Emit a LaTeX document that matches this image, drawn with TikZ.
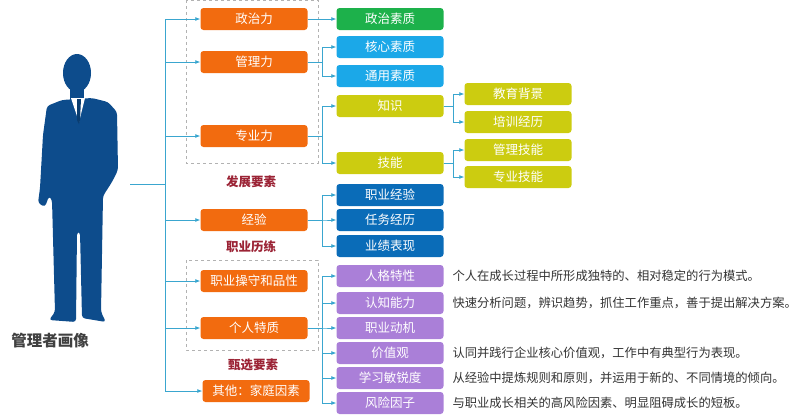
\documentclass[tikz,border=0pt]{standalone}
\usepackage{fontspec}
\setmainfont{Noto Sans CJK SC}
\usetikzlibrary{arrows.meta}
\definecolor{lineblue}{HTML}{3AA6CF}
\definecolor{orangeA}{HTML}{F26B0F}
\definecolor{greenA}{HTML}{1DB14B}
\definecolor{cyanA}{HTML}{1BA8E8}
\definecolor{yellowA}{HTML}{CCCC10}
\definecolor{navyA}{HTML}{0A6CB8}
\definecolor{purpleA}{HTML}{AA7FD8}
\definecolor{redlabel}{HTML}{9B2335}
\definecolor{suit}{HTML}{0D4C8C}

\begin{document}
\begin{tikzpicture}[x=1pt,y=-1pt,
  box/.style={rounded corners=3pt, minimum width=107pt, minimum height=22pt,
    inner sep=0pt, text=white, font=\fontsize{12.5}{13}\selectfont},
  obox/.style={box, fill=orangeA},
  arr/.style={draw=lineblue, line width=0.8pt, -{Latex[length=5pt,width=4pt]}},
  groupname/.style={text=redlabel, font=\fontsize{12.5}{13}\selectfont\bfseries},
  desc/.style={anchor=west, text=black!80, font=\fontsize{12.3}{13}\selectfont},
  grouprect/.style={draw=black!30, dashed, line width=0.8pt}]

\useasboundingbox (0,0) rectangle (808,418);

% the manager
\fill[suit] (77,73) ellipse (14 and 19);
\fill[suit] (70,86) rectangle (84,101);
\fill[suit, rounded corners=3pt] (62,100) -- (47,106) -- (43,135) -- (40,188)
  -- (38,203) -- (45,207) -- (49,196) -- (52,200) -- (55,312) -- (49,320)
  -- (76,322) -- (77,232) -- (80,232) -- (82,318) -- (106,322) -- (101,312)
  -- (103,196) -- (112,182) -- (118,170) -- (117,112) -- (108,102) -- (92,98) -- cycle;
\fill[white] (71,98) -- (85,98) -- (79,122) -- cycle;
\fill[suit!80!black] (77,99) -- (81,99) -- (80,120) -- (79,124) -- (77,120) -- cycle;
\node[font=\fontsize{15.5}{16}\selectfont\bfseries, text=black!75] (title) at (50,341) {管理者画像};

\coordinate (root) at (130,184);

% groups
\draw[grouprect] (186,0) rectangle (318,163);
\draw[grouprect] (186,260) rectangle (318,350);
\node[groupname] (g1) at (251,182) {发展要素};
\node[groupname] (g2) at (251,247) {职业历练};
\node[groupname] (g3) at (253,365) {甄选要素};

% first level
\node[obox] (zzl) at (254,19) {政治力};
\node[obox] (gll) at (254,62) {管理力};
\node[obox] (zyl) at (254,136) {专业力};
\node[obox] (jy) at (254,220) {经验};
\node[obox] (czps) at (254,281) {职业操守和品性};
\node[obox] (grtz) at (254,328) {个人特质};
\node[obox] (qt) at (256,391) {其他：家庭因素};

\foreach \n in {zzl,gll,zyl,jy,czps,grtz,qt}
  \draw[arr] (root) -- ++(35,0) |- (\n.west);

% second level
\node[box, fill=greenA] (zzsz) at (390,19) {政治素质};
\node[box, fill=cyanA] (hxsz) at (390,47) {核心素质};
\node[box, fill=cyanA] (tysz) at (390,76) {通用素质};
\node[box, fill=yellowA] (zs) at (390,106) {知识};
\node[box, fill=yellowA] (jn) at (390,163) {技能};
\node[box, fill=navyA] (zyjy) at (390,195) {职业经验};
\node[box, fill=navyA] (rwjl) at (390,220) {任务经历};
\node[box, fill=navyA] (yjbx) at (390,246) {业绩表现};
\node[box, fill=purpleA] (rgtx) at (390,276) {人格特性};
\node[box, fill=purpleA] (rznl) at (390,303) {认知能力};
\node[box, fill=purpleA] (zydj) at (390,328) {职业动机};
\node[box, fill=purpleA] (jzg) at (390,353) {价值观};
\node[box, fill=purpleA] (xxmr) at (390,378) {学习敏锐度};
\node[box, fill=purpleA] (fxyz) at (390,403) {风险因子};

\draw[arr] (zzl) -- (zzsz);
\foreach \n in {hxsz,tysz} \draw[arr] (gll.east) -- ++(15,0) |- (\n.west);
\foreach \n in {zs,jn} \draw[arr] (zyl.east) -- ++(15,0) |- (\n.west);
\foreach \n in {zyjy,rwjl,yjbx} \draw[arr] (jy.east) -- ++(15,0) |- (\n.west);
\foreach \n in {rgtx,rznl,zydj,jzg,xxmr,fxyz} \draw[arr] (grtz.east) -- ++(15,0) |- (\n.west);

% third level
\node[box, fill=yellowA] (jybj) at (518,94) {教育背景};
\node[box, fill=yellowA] (pxjl) at (518,122) {培训经历};
\node[box, fill=yellowA] (gljn) at (518,150) {管理技能};
\node[box, fill=yellowA] (zyjn) at (518,177) {专业技能};

\foreach \n in {jybj,pxjl} \draw[arr] (zs.east) -- ++(10,0) |- (\n.west);
\foreach \n in {gljn,zyjn} \draw[arr] (jn.east) -- ++(10,0) |- (\n.west);

% descriptions
\node[desc] (d1) at (449,276) {个人在成长过程中所形成独特的、相对稳定的行为模式。};
\node[desc] (d2) at (449,303) {快速分析问题，辨识趋势，抓住工作重点，善于提出解决方案。};
\node[desc] (d3) at (449,353) {认同并践行企业核心价值观，工作中有典型行为表现。};
\node[desc] (d4) at (449,378) {从经验中提炼规则和原则，并运用于新的、不同情境的倾向。};
\node[desc] (d5) at (449,403) {与职业成长相关的高风险因素、明显阻碍成长的短板。};

\end{tikzpicture}
\end{document}
